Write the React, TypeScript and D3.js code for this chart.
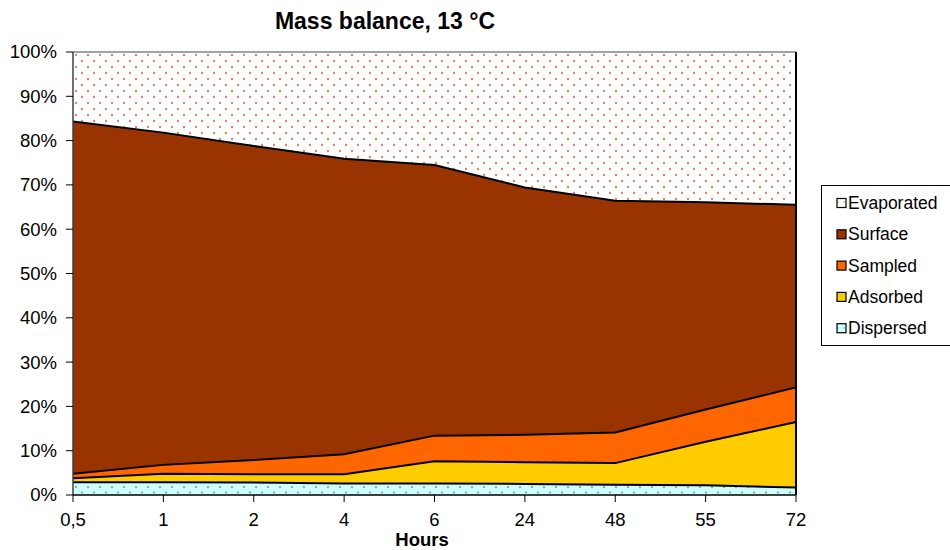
import React from "react";
import * as d3 from "d3";

const categories = ["0,5", "1", "2", "4", "6", "24", "48", "55", "72"];
const dispersed = [2.9, 2.9, 2.8, 2.6, 2.6, 2.5, 2.3, 2.2, 1.7];
const adsorbed = [0.9, 1.9, 1.9, 2.1, 5.0, 4.9, 4.9, 9.8, 14.8];
const sampled = [1.0, 2.0, 3.2, 4.5, 5.8, 6.2, 6.9, 7.3, 7.8];
const surface = [79.5, 75.0, 70.9, 66.7, 61.1, 55.8, 52.3, 46.8, 41.2];
const evaporated = categories.map((_, i) => 100 - dispersed[i] - adsorbed[i] - sampled[i] - surface[i]);
const yTicks = [0, 10, 20, 30, 40, 50, 60, 70, 80, 90, 100];
const seriesNames = ["Dispersed", "Adsorbed", "Sampled", "Surface", "Evaporated"];
const legendOrder = ["Evaporated", "Surface", "Sampled", "Adsorbed", "Dispersed"];

const fills: Record<string, string> = {
  Dispersed: "url(#patDisp)",
  Adsorbed: "#ffcc00",
  Sampled: "#ff6600",
  Surface: "#993300",
  Evaporated: "url(#patEvap)",
};

export default function App() {
  const left = 73, right = 796, top = 52, bottom = 495;
  const x = d3.scalePoint<string>().domain(categories).range([left, right]).padding(0);
  const y = d3.scaleLinear().domain([0, 100]).range([bottom, top]);
  const rows = categories.map((c, i) => ({
    cat: c,
    Dispersed: dispersed[i],
    Adsorbed: adsorbed[i],
    Sampled: sampled[i],
    Surface: surface[i],
    Evaporated: evaporated[i],
  }));
  const stack = d3.stack<any>().keys(seriesNames);
  const layers = stack(rows);
  const area = d3
    .area<any>()
    .x((d) => x(d.data.cat) as number)
    .y0((d) => y(d[0]))
    .y1((d) => y(d[1]));
  const topLine = d3
    .line<any>()
    .x((d) => x(d.data.cat) as number)
    .y((d) => y(d[1]));
  const font = "'Liberation Sans', Arial, sans-serif";

  return (
    <svg width={950} height={550} style={{ position: "absolute", left: 0, top: 0, background: "#fff" }}>
      <defs>
        <pattern id="patEvap" patternUnits="userSpaceOnUse" width={12} height={12} x={left} y={top}>
          <rect width={12} height={12} fill="#fff" />
          <circle cx={3} cy={3} r={1.2} fill="#d98a6a" />
          <circle cx={9} cy={9} r={1.2} fill="#d98a6a" />
        </pattern>
        <pattern id="patDisp" patternUnits="userSpaceOnUse" width={12} height={11} x={left} y={bottom}>
          <rect width={12} height={11} fill="#ccffff" />
          <circle cx={3} cy={3} r={1.1} fill="#a09080" />
          <circle cx={9} cy={8.5} r={1.1} fill="#a09080" />
        </pattern>
        <pattern id="patEvapL" patternUnits="userSpaceOnUse" width={6} height={6}>
          <rect width={6} height={6} fill="#fff" />
          <circle cx={4} cy={4} r={0.8} fill="#d98a6a" />
        </pattern>
        <pattern id="patDispL" patternUnits="userSpaceOnUse" width={6} height={6}>
          <rect width={6} height={6} fill="#ccffff" />
          <circle cx={4} cy={4} r={0.8} fill="#a09080" />
        </pattern>
      </defs>

      <text x={385} y={29} textAnchor="middle" fontFamily={font} fontWeight="bold" fontSize={23}>
        Mass balance, 13 °C
      </text>

      {layers.map((layer) => (
        <path key={layer.key} d={area(layer) || ""} fill={fills[layer.key]} stroke="none" />
      ))}
      {layers.slice(0, 4).map((layer) => (
        <path key={"l" + layer.key} d={topLine(layer) || ""} fill="none" stroke="#000" strokeWidth={2} />
      ))}
      {/* plot frame */}
      <line x1={left} x2={right} y1={top} y2={top} stroke="#808080" strokeWidth={1.5} />
      <line x1={right} x2={right} y1={top} y2={bottom} stroke="#000" strokeWidth={2} />
      <line x1={left} x2={left} y1={top} y2={bottom} stroke="#404040" strokeWidth={1.5} />
      <line x1={left} x2={right} y1={bottom} y2={bottom} stroke="#000" strokeWidth={1.5} />

      {yTicks.map((t) => (
        <g key={t}>
          <line x1={66} x2={left} y1={y(t)} y2={y(t)} stroke="#000" strokeWidth={1} />
          <text x={57} y={y(t)} dy="0.35em" textAnchor="end" fontFamily={font} fontSize={18.5}>
            {t + "%"}
          </text>
        </g>
      ))}
      {categories.map((c) => (
        <g key={c}>
          <line x1={x(c)} x2={x(c)} y1={bottom} y2={bottom + 7} stroke="#000" strokeWidth={1} />
          <text x={x(c)} y={526} textAnchor="middle" fontFamily={font} fontSize={18.5}>
            {c}
          </text>
        </g>
      ))}
      <text x={422} y={546} textAnchor="middle" fontFamily={font} fontWeight="bold" fontSize={18.5}>
        Hours
      </text>

      <rect x={821.5} y={185.5} width={140} height={160} fill="#fff" stroke="#000" strokeWidth={1} />
      {legendOrder.map((k, i) => {
        const cy = 203 + i * 31.3;
        const lf = k === "Evaporated" ? "url(#patEvapL)" : k === "Dispersed" ? "url(#patDispL)" : fills[k];
        return (
          <g key={k}>
            <rect x={837} y={cy - 4.5} width={9} height={9} fill={lf} stroke="#000" strokeWidth={1.2} />
            <text x={848} y={cy} dy="0.35em" fontFamily={font} fontSize={17.5}>
              {k}
            </text>
          </g>
        );
      })}
    </svg>
  );
}
